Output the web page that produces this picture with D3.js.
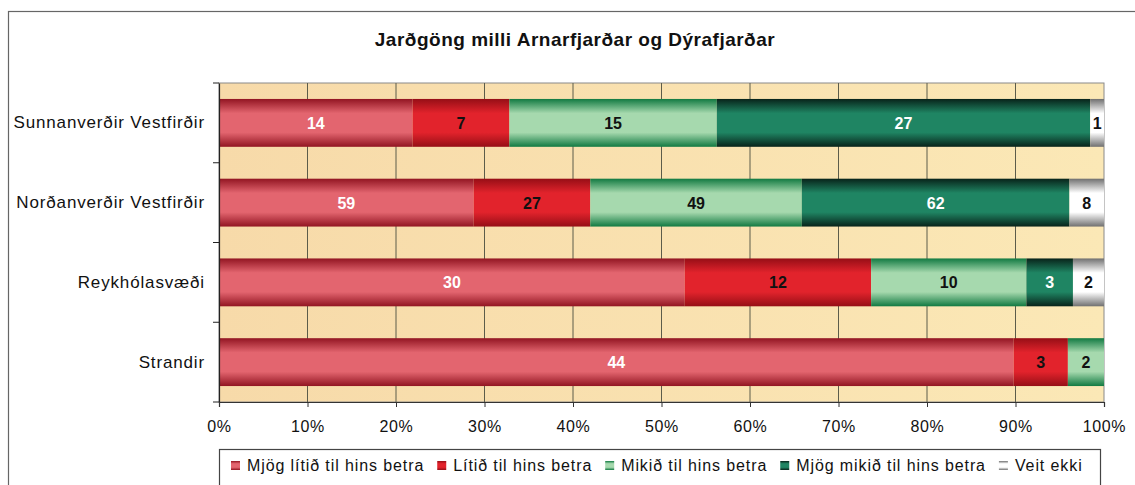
<!DOCTYPE html>
<html>
<meta charset="utf-8">
<head>
    <script src="https://d3js.org/d3.v7.min.js"></script>
    <style>
        body { margin: 0; background: #fff; }
        text { font-family: "Liberation Sans", Arial, sans-serif; }
    </style>
</head>
<body>
    <div id="chart"></div>
</body>

<script>
    // data (number of answers)
    const categories = ["Sunnanverðir Vestfirðir", "Norðanverðir Vestfirðir", "Reykhólasvæði", "Strandir"];
    const seriesNames = ["Mjög lítið til hins betra", "Lítið til hins betra", "Mikið til hins betra",
        "Mjög mikið til hins betra", "Veit ekki"];
    const mjogLitid = [14, 59, 30, 44];
    const litid = [7, 27, 12, 3];
    const mikid = [15, 49, 10, 2];
    const mjogMikid = [27, 62, 3, 0];
    const veitEkki = [1, 8, 2, 0];
    const xTicks = [0, 0.1, 0.2, 0.3, 0.4, 0.5, 0.6, 0.7, 0.8, 0.9, 1];
    const title = "Jarðgöng milli Arnarfjarðar og Dýrafjarðar";

    const seriesValues = [mjogLitid, litid, mikid, mjogMikid, veitEkki];
    const edgeColors = ["#921522", "#960e16", "#127a42", "#08231a", "#707070"];
    const midColors = ["#e3656f", "#e2232c", "#a6d9ae", "#1f8563", "#ffffff"];
    const labelColors = ["#fff", "#111", "#111", "#fff", "#111"];

    const W = 1135, H = 485;
    const margin = { top: 83, right: 31, bottom: 83, left: 219 };

    const svg = d3.select("#chart")
        .append("svg")
            .attr("width", W)
            .attr("height", H);

    const defs = svg.append("defs");
    seriesNames.forEach((s, i) => {
        const g = defs.append("linearGradient")
            .attr("id", "grad" + i)
            .attr("x1", 0).attr("y1", 0).attr("x2", 0).attr("y2", 1);
        g.append("stop").attr("offset", "0%").attr("stop-color", edgeColors[i]);
        g.append("stop").attr("offset", "30%").attr("stop-color", midColors[i]);
        g.append("stop").attr("offset", "70%").attr("stop-color", midColors[i]);
        g.append("stop").attr("offset", "100%").attr("stop-color", edgeColors[i]);
    });
    const bg = defs.append("linearGradient")
        .attr("id", "bggrad")
        .attr("x1", 0).attr("y1", 0).attr("x2", 1).attr("y2", 0);
    bg.append("stop").attr("offset", "0%").attr("stop-color", "#f7daa9");
    bg.append("stop").attr("offset", "100%").attr("stop-color", "#fbe8b6");

    // outer frame
    svg.append("rect")
        .attr("x", 8.5).attr("y", 11.5)
        .attr("width", W + 10).attr("height", H + 10)
        .attr("fill", "none")
        .attr("stroke", "#666")
        .attr("stroke-width", 1.2);

    // title
    svg.append("text")
        .attr("x", 575).attr("y", 46)
        .attr("text-anchor", "middle")
        .style("font-size", "19px")
        .style("font-weight", "bold")
        .style("letter-spacing", "0.5px")
        .attr("fill", "#111")
        .text(title);

    const x = d3.scaleLinear()
        .domain([0, 1])
        .range([margin.left, W - margin.right]);

    const y = d3.scaleBand()
        .domain(categories)
        .range([margin.top, H - margin.bottom])
        .paddingInner(0.4)
        .paddingOuter(0.2);

    // plot area
    svg.append("rect")
        .attr("x", x(0)).attr("y", margin.top)
        .attr("width", x(1) - x(0))
        .attr("height", H - margin.bottom - margin.top)
        .attr("fill", "url(#bggrad)")
        .attr("stroke", "#8a8a8a");

    // vertical gridlines
    svg.append("g")
        .selectAll("line")
        .data(xTicks.slice(1, -1))
        .join("line")
            .attr("x1", d => x(d)).attr("x2", d => x(d))
            .attr("y1", margin.top).attr("y2", H - margin.bottom)
            .attr("stroke", "#5c5c4a")
            .attr("stroke-width", 1);

    // stacked, normalised to 100%
    const table = categories.map((c, j) => {
        const row = { cat: c };
        seriesNames.forEach((s, i) => row[s] = seriesValues[i][j]);
        return row;
    });
    const stack = d3.stack()
        .keys(seriesNames)
        .offset(d3.stackOffsetExpand);
    const layers = stack(table);

    const layer = svg.append("g")
        .selectAll("g")
        .data(layers)
        .join("g")
            .attr("fill", (d, i) => `url(#grad${i})`);

    layer.selectAll("rect")
        .data(d => d.filter(p => p[1] > p[0]))
        .join("rect")
            .attr("x", d => x(d[0]))
            .attr("y", d => y(d.data.cat))
            .attr("width", d => x(d[1]) - x(d[0]))
            .attr("height", y.bandwidth());

    // value labels
    layers.forEach((l, i) => {
        svg.append("g")
            .selectAll("text")
            .data(l.filter(p => p.data[l.key] > 0))
            .join("text")
                .attr("x", d => (x(d[0]) + x(d[1])) / 2)
                .attr("y", d => y(d.data.cat) + y.bandwidth() / 2 + 6)
                .attr("text-anchor", "middle")
                .style("font-size", "16px")
                .style("font-weight", "bold")
                .attr("fill", labelColors[i])
                .text(d => d.data[l.key]);
    });

    // y axis
    const yAxis = svg.append("g")
        .attr("transform", `translate(${x(0)},0)`)
        .call(d3.axisLeft(y).tickSize(0).tickPadding(14));
    yAxis.select(".domain").attr("stroke", "#222").attr("stroke-width", 1.2);
    yAxis.selectAll("text")
        .style("font-size", "17px")
        .style("letter-spacing", "0.85px")
        .attr("fill", "#111");
    // ticks between categories
    const bounds = categories.map(c => y(c) - y.step() * y.paddingInner() / 2).concat([H - margin.bottom]);
    yAxis.selectAll(".sep")
        .data(bounds)
        .join("line")
            .attr("class", "sep")
            .attr("x1", -6).attr("x2", 0)
            .attr("y1", d => d).attr("y2", d => d)
            .attr("stroke", "#222");

    // x axis
    const xAxis = svg.append("g")
        .attr("transform", `translate(0,${H - margin.bottom})`)
        .call(d3.axisBottom(x).tickValues(xTicks).tickFormat(d3.format(".0%"))
            .tickSize(5).tickPadding(14));
    xAxis.select(".domain").attr("stroke", "#333").attr("stroke-width", 1.2);
    xAxis.selectAll(".tick line").attr("stroke", "#333");
    xAxis.selectAll("text")
        .style("font-size", "16px")
        .style("letter-spacing", "0.6px")
        .attr("fill", "#111");

    // legend
    svg.append("rect")
        .attr("x", 219.5).attr("y", 449.5)
        .attr("width", 881).attr("height", 50)
        .attr("fill", "#fff")
        .attr("stroke", "#444")
        .attr("stroke-width", 1.2);

    const legend = svg.append("g");
    let lx = 231;
    seriesNames.forEach((s, i) => {
        legend.append("rect")
            .attr("x", lx).attr("y", 461)
            .attr("width", 9).attr("height", 9)
            .attr("fill", `url(#grad${i})`);
        const t = legend.append("text")
            .attr("x", lx + 16).attr("y", 471)
            .style("font-size", "16px")
            .style("letter-spacing", "0.9px")
            .attr("fill", "#111")
            .text(s);
        lx += 16 + t.node().getComputedTextLength() + 13;
    });
</script>
</html>
